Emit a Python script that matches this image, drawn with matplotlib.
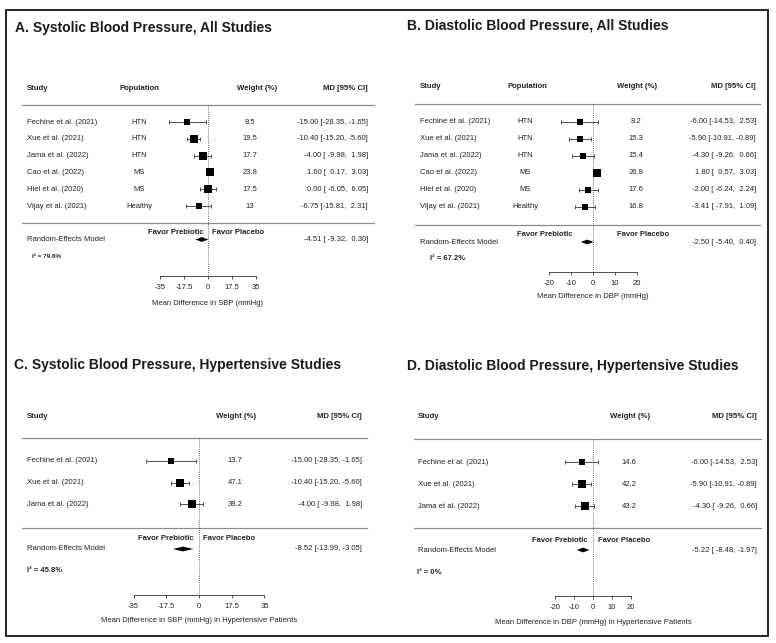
import numpy as np
import matplotlib
matplotlib.use("Agg")
import matplotlib.pyplot as plt
from matplotlib.patches import Rectangle

plt.rcParams['font.family'] = ['Liberation Sans', 'DejaVu Sans']
plt.rcParams['axes.unicode_minus'] = False

# ---------------- data ----------------
studies_all = ["Fechine et al. (2021)", "Xue et al. (2021)", "Jama et al. (2022)",
               "Cao et al. (2022)", "Hiel et al. (2020)", "Vijay et al. (2021)"]
population_all = ["HTN", "HTN", "HTN", "MS", "MS", "Healthy"]

sbp_md = [-15.00, -10.40, -4.00, 1.60, 0.00, -6.75]
sbp_lo = [-28.35, -15.20, -9.98, 0.17, -6.05, -15.81]
sbp_hi = [-1.65, -5.60, 1.98, 3.03, 6.05, 2.31]
sbp_weight = [8.5, 19.5, 17.7, 23.8, 17.5, 13]
sbp_re = [-4.51, -9.32, 0.30]
sbp_i2 = "79.6%"

dbp_md = [-6.00, -5.90, -4.30, 1.80, -2.00, -3.41]
dbp_lo = [-14.53, -10.91, -9.26, 0.57, -6.24, -7.91]
dbp_hi = [2.53, -0.89, 0.66, 3.03, 2.24, 1.09]
dbp_weight = [8.2, 15.3, 15.4, 26.8, 17.6, 16.8]
dbp_re = [-2.50, -5.40, 0.40]
dbp_i2 = "67.2%"

studies_htn = ["Fechine et al. (2021)", "Xue et al. (2021)", "Jama et al. (2022)"]
sbp_htn_md = [-15.00, -10.40, -4.00]
sbp_htn_lo = [-28.35, -15.20, -9.98]
sbp_htn_hi = [-1.65, -5.60, 1.98]
sbp_htn_weight = [13.7, 47.1, 39.2]
sbp_htn_re = [-8.52, -13.99, -3.05]
sbp_htn_i2 = "45.8%"

dbp_htn_md = [-6.00, -5.90, -4.30]
dbp_htn_lo = [-14.53, -10.91, -9.26]
dbp_htn_hi = [2.53, -0.89, 0.66]
dbp_htn_weight = [14.6, 42.2, 43.2]
dbp_htn_re = [-5.22, -8.48, -1.97]
dbp_htn_i2 = "0%"

sbp_ticks = [-35, -17.5, 0, 17.5, 35]
sbp_ticklabels = ["-35", "-17.5", "0", "17.5", "35"]
dbp_ticks = [-20, -10, 0, 10, 20]
dbp_ticklabels = ["-20", "-10", "0", "10", "20"]

# ---------------- figure ----------------
W, H = 776, 643
fig = plt.figure(figsize=(W / 100, H / 100), dpi=100)
bg = fig.add_axes([0, 0, 1, 1])
bg.set_xlim(0, W)
bg.set_ylim(H, 0)
bg.axis('off')
bg.add_patch(Rectangle((6, 9.5), 762, 626.5, fill=False, ec='#111111', lw=1.3))

TXT = '#222222'
BODY = 5.5
HEAD = 5.6


def fmt_ci(e, l, h):
    return f"{e:.2f} [{l:6.2f}, {h:5.2f}]"


def panel(cfg, title, studies, pops, md, lo, hi, wt, re, i2, ticks, ticklabels, xlabel):
    L, R, T, B = cfg['rect']
    zero, sc, row0, sp = cfg['zero'], cfg['scale'], cfg['row0'], cfg['sp']
    ax = fig.add_axes([L / W, 1 - B / H, (R - L) / W, (B - T) / H])
    ax.set_xlim((L - zero) / sc, (R - zero) / sc)
    ax.set_ylim((B - row0) / sp, (T - row0) / sp)
    ax.patch.set_alpha(0)
    X = lambda p: (p - zero) / sc
    Y = lambda p: (p - row0) / sp

    bg.text(cfg['title_xy'][0], cfg['title_xy'][1], title, fontsize=10,
            fontweight='bold', color='#1a1a1a', ha='left', va='center')

    # header
    hy = Y(cfg['head_y'])
    ax.text(X(cfg['study_x']), hy, "Study", fontsize=HEAD, fontweight='bold', color=TXT, ha='left', va='center')
    if pops is not None:
        ax.text(X(cfg['pop_head_x']), hy, "Population", fontsize=HEAD, fontweight='bold', color=TXT, ha='left', va='center')
    ax.text(X(cfg['w_head_x']), hy, "Weight (%)", fontsize=HEAD, fontweight='bold', color=TXT, ha='center', va='center')
    ax.text(X(cfg['md_x']), hy, "MD [95% CI]", fontsize=HEAD, fontweight='bold', color=TXT, ha='right', va='center')
    x0, x1 = X(cfg['line_x'][0]), X(cfg['line_x'][1])
    ax.plot([x0, x1], [Y(cfg['line1']), Y(cfg['line1'])], color='#8c8c8c', lw=0.9)
    ax.plot([x0, x1], [Y(cfg['line2']), Y(cfg['line2'])], color='#8c8c8c', lw=0.9)

    # zero line
    ax.vlines(0, Y(cfg['line1']), Y(cfg['axis_y']), colors='#444444', linestyles=(0, (1, 1.5)), lw=0.6)

    n = len(studies)
    ys = np.arange(n)
    wmax = max(wt)
    for i in range(n):
        ax.text(X(cfg['study_x']), ys[i], studies[i], fontsize=BODY, color=TXT, ha='left', va='center')
        if pops is not None:
            ax.text(X(cfg['pop_x']), ys[i], pops[i], fontsize=BODY, color=TXT, ha='center', va='center')
        ax.text(X(cfg['w_x']), ys[i], f"{wt[i]:g}", fontsize=BODY, color=TXT, ha='center', va='center')
        ax.text(X(cfg['md_x']), ys[i], fmt_ci(md[i], lo[i], hi[i]), fontsize=BODY, color=TXT, ha='right', va='center')
    md_a = np.array(md)
    err = np.vstack([md_a - np.array(lo), np.array(hi) - md_a])
    ax.errorbar(md_a, ys, xerr=err, fmt='none', ecolor='#333333', elinewidth=0.6,
                capsize=1.3, capthick=0.6)
    for i in range(n):
        side_px = 5.8 + 1.7 * wt[i] / wmax
        ax.plot(md[i], ys[i], marker='s', ms=side_px * 0.72, color='black', mec='black', mew=0)

    # random effects
    ry = Y(cfg['re_y'])
    ax.text(X(cfg['study_x']), ry, "Random-Effects Model", fontsize=BODY, color=TXT, ha='left', va='center')
    ax.text(X(cfg['md_x']), ry, fmt_ci(*re), fontsize=BODY, color=TXT, ha='right', va='center')
    hh = 2.4 / sp
    ax.fill([re[1], re[0], re[2], re[0]], [ry, ry - hh, ry, ry + hh], color='black', lw=0)

    fy = Y(cfg['favor_y'])
    fp, fpl = cfg['favor_x']
    ax.text(X(fp[0]), fy, "Favor Prebiotic", fontsize=BODY, fontweight='bold', color=TXT, ha=fp[1], va='center')
    ax.text(X(fpl[0]), fy, "Favor Placebo", fontsize=BODY, fontweight='bold', color=TXT, ha=fpl[1], va='center')

    ax.text(X(cfg['i2_xy'][0]), Y(cfg['i2_xy'][1]), "I² = " + i2, fontsize=cfg['i2_fs'],
            fontweight='bold', color=TXT, ha='left', va='center')

    # axis
    for s in ['left', 'right', 'top']:
        ax.spines[s].set_visible(False)
    ax.spines['bottom'].set_position(('data', Y(cfg['axis_y'])))
    ax.spines['bottom'].set_bounds(ticks[0], ticks[-1])
    ax.spines['bottom'].set_linewidth(0.6)
    ax.spines['bottom'].set_color('#333333')
    ax.set_yticks([])
    ax.set_xticks(ticks)
    ax.set_xticklabels(ticklabels)
    ax.tick_params(axis='x', direction='out', length=2.3, width=0.6, color='#333333',
                   labelsize=BODY, labelcolor=TXT, pad=3.2)
    ax.text(0, Y(cfg['xlabel_y']), xlabel, fontsize=BODY, color=TXT, ha='center', va='center')
    return ax


cfgA = dict(rect=(6, 384, 40, 315), zero=208, scale=1.371, row0=122, sp=16.8,
            title_xy=(15, 28), head_y=88, study_x=27, pop_head_x=120, pop_x=139,
            w_head_x=257, w_x=250, md_x=368, line_x=(22, 374), line1=105, line2=223,
            re_y=239.5, favor_y=232, favor_x=((204, 'right'), (212, 'left')),
            i2_xy=(32, 257), i2_fs=4.6, axis_y=276, xlabel_y=303)
cfgB = dict(rect=(390, 768, 40, 315), zero=592.7, scale=2.2, row0=121.5, sp=17.1,
            title_xy=(407, 26), head_y=86, study_x=420, pop_head_x=507, pop_x=525,
            w_head_x=637, w_x=636, md_x=756, line_x=(415, 760), line1=104, line2=225,
            re_y=242, favor_y=234, favor_x=((545, 'center'), (643, 'center')),
            i2_xy=(430, 259), i2_fs=5.5, axis_y=272, xlabel_y=296)
cfgC = dict(rect=(6, 384, 380, 632), zero=199, scale=1.87, row0=461, sp=21.5,
            title_xy=(14, 365), head_y=417, study_x=27,
            w_head_x=236, w_x=235, md_x=362, line_x=(22, 367), line1=438, line2=528,
            re_y=549, favor_y=538, favor_x=((194, 'right'), (203, 'left')),
            i2_xy=(27, 571), i2_fs=5.5, axis_y=595, xlabel_y=620)
cfgD = dict(rect=(390, 768, 380, 632), zero=593, scale=1.9, row0=462, sp=22,
            title_xy=(407, 366), head_y=417, study_x=418,
            w_head_x=630, w_x=629, md_x=757, line_x=(414, 761), line1=439, line2=528,
            re_y=550, favor_y=540, favor_x=((588, 'right'), (598, 'left')),
            i2_xy=(417, 572), i2_fs=5.5, axis_y=596, xlabel_y=623)

panel(cfgA, "A. Systolic Blood Pressure, All Studies", studies_all, population_all,
      sbp_md, sbp_lo, sbp_hi, sbp_weight, sbp_re, sbp_i2, sbp_ticks, sbp_ticklabels,
      "Mean Difference in SBP (mmHg)")
panel(cfgB, "B. Diastolic Blood Pressure, All Studies", studies_all, population_all,
      dbp_md, dbp_lo, dbp_hi, dbp_weight, dbp_re, dbp_i2, dbp_ticks, dbp_ticklabels,
      "Mean Difference in DBP (mmHg)")
panel(cfgC, "C. Systolic Blood Pressure, Hypertensive Studies", studies_htn, None,
      sbp_htn_md, sbp_htn_lo, sbp_htn_hi, sbp_htn_weight, sbp_htn_re, sbp_htn_i2,
      sbp_ticks, sbp_ticklabels, "Mean Difference in SBP (mmHg) in Hypertensive Patients")
panel(cfgD, "D. Diastolic Blood Pressure, Hypertensive Studies", studies_htn, None,
      dbp_htn_md, dbp_htn_lo, dbp_htn_hi, dbp_htn_weight, dbp_htn_re, dbp_htn_i2,
      dbp_ticks, dbp_ticklabels, "Mean Difference in DBP (mmHg) in Hypertensive Patients")

fig.savefig("out.png", dpi=100)
